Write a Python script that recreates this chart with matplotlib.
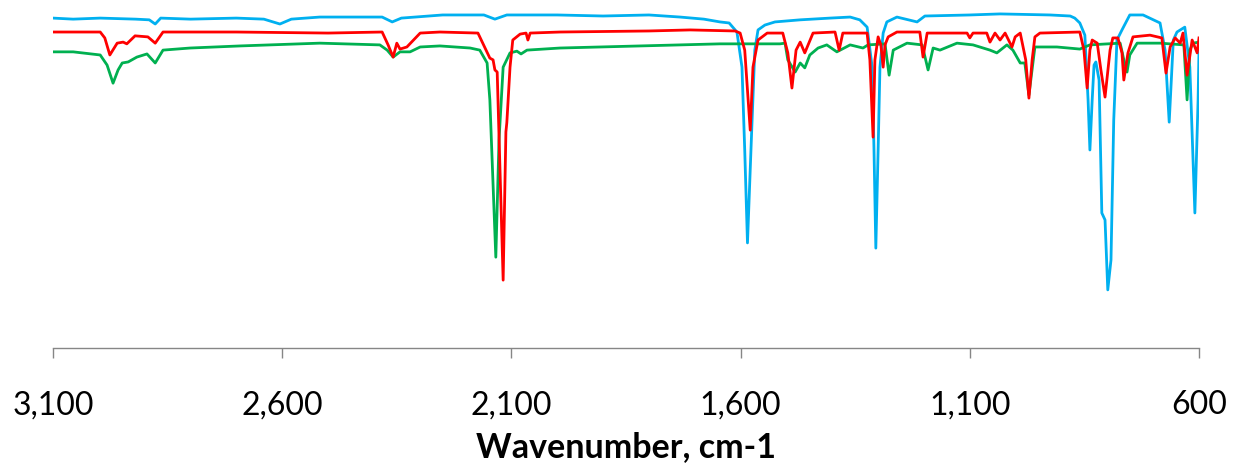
import matplotlib.pyplot as plt

# IR spectra (wavenumber cm-1, transmittance-like units)
wn_blue = [3100, 3056, 2997, 2920, 2890, 2877, 2865, 2800, 2700, 2640, 2605, 2580, 2518, 2450,
           2382, 2360, 2340, 2250, 2160, 2136, 2110, 2000, 1900, 1800, 1732, 1680, 1645, 1625,
           1608, 1597, 1591, 1585, 1576, 1569, 1562, 1547, 1525, 1470, 1405, 1361, 1340, 1324,
           1313, 1309, 1305, 1300, 1296, 1289, 1281, 1259, 1215, 1198, 1100, 1034, 925, 881,
           871, 860, 849, 842, 838, 833, 829, 825, 818, 812, 805, 799, 792, 786, 779, 768, 751,
           722, 685, 674, 665, 656, 648, 631, 620, 609, 602, 600]
t_blue = [94.8, 94.5, 94.8, 94.5, 94.3, 93.1, 94.8, 94.5, 94.8, 94.5, 93.1, 94.5, 95.1, 95.1,
          95.1, 93.7, 94.8, 95.7, 95.7, 94.5, 95.7, 95.7, 95.4, 95.7, 95.1, 94.5, 93.7, 93.4,
          90.8, 80.7, 56.9, 30.2, 61.8, 85.6, 91.4, 92.8, 93.7, 94.3, 94.8, 95.1, 94.3, 92.2,
          80.7, 56.9, 28.7, 56.9, 80.7, 90.5, 93.7, 95.1, 93.7, 95.4, 95.7, 96.0, 95.7, 95.4,
          94.8, 93.4, 89.9, 71.3, 56.9, 71.3, 81.3, 82.2, 77.0, 38.8, 36.8, 16.7, 25.3, 65.5,
          88.5, 91.4, 95.7, 95.7, 93.4, 85.6, 64.9, 88.5, 90.8, 92.2, 80.7, 38.8, 71.3, 85.6]

wn_red = [3100, 2997, 2987, 2976, 2960, 2947, 2939, 2921, 2893, 2877, 2860, 2700, 2500, 2382,
          2369, 2358, 2350, 2343, 2328, 2299, 2256, 2173, 2169, 2147, 2140, 2136, 2131, 2118,
          2112, 2110, 2103, 2097, 2081, 2068, 2064, 2059, 1994, 1800, 1710, 1612, 1601, 1591,
          1579, 1573, 1562, 1542, 1508, 1497, 1488, 1479, 1470, 1460, 1442, 1394, 1385, 1377,
          1324, 1318, 1311, 1307, 1300, 1294, 1289, 1285, 1278, 1259, 1209, 1202, 1193, 1106,
          1100, 1093, 1063, 1056, 1045, 1034, 1023, 1008, 1001, 990, 978, 971, 964, 958, 947,
          860, 851, 844, 838, 833, 822, 814, 805, 794, 788, 777, 768, 764, 755, 744, 707, 681,
          672, 663, 652, 641, 635, 626, 615, 604, 600]
t_red = [90.8, 90.8, 89.1, 84.2, 87.6, 87.9, 87.4, 89.7, 89.4, 87.6, 90.8, 90.8, 90.5, 90.8,
         87.1, 83.6, 87.6, 85.9, 86.5, 90.5, 90.8, 90.5, 89.4, 83.3, 82.8, 79.9, 79.3, 19.5,
         62.1, 64.7, 80.7, 88.5, 90.2, 90.5, 88.5, 90.5, 90.8, 91.1, 91.4, 91.1, 90.5, 85.6,
         62.6, 80.7, 88.5, 90.5, 90.5, 84.8, 74.7, 85.6, 87.9, 84.8, 90.5, 90.8, 85.6, 90.5,
         90.5, 82.8, 60.6, 82.8, 89.4, 87.1, 80.7, 87.1, 89.4, 90.8, 90.8, 83.6, 90.5, 90.5,
         89.1, 90.5, 90.5, 87.9, 90.5, 88.5, 90.5, 86.5, 89.4, 90.5, 82.8, 71.8, 82.8, 89.4, 90.5,
         90.8, 85.6, 74.7, 85.6, 88.5, 87.6, 79.9, 72.1, 85.6, 89.1, 89.1, 84.8, 77.0, 84.8,
         89.4, 89.9, 89.1, 79.0, 86.5, 89.1, 87.6, 90.5, 78.4, 88.5, 84.8, 89.1]

wn_green = [3100, 3056, 2997, 2982, 2969, 2958, 2949, 2936, 2917, 2895, 2877, 2860, 2801, 2692,
            2518, 2387, 2371, 2358, 2343, 2321, 2299, 2256, 2190, 2169, 2153, 2147, 2134, 2127,
            2118, 2103, 2088, 2079, 2066, 1994, 1732, 1645, 1514, 1503, 1497, 1481, 1470, 1460,
            1449, 1431, 1412, 1390, 1361, 1333, 1322, 1285, 1276, 1267, 1237, 1204, 1191, 1180,
            1165, 1128, 1093, 1056, 1041, 1019, 1006, 990, 980, 971, 958, 910, 860, 838, 772,
            764, 757, 751, 735, 685, 633, 626, 620, 613, 600]
t_green = [85.1, 85.1, 84.2, 81.3, 76.1, 79.9, 81.9, 82.2, 83.6, 84.5, 81.9, 85.6, 86.2, 86.8,
           87.6, 87.1, 85.6, 83.6, 85.1, 85.1, 86.5, 86.8, 86.2, 85.6, 81.9, 71.3, 26.1, 59.8,
           80.7, 84.8, 85.3, 84.5, 85.6, 86.2, 87.1, 87.4, 87.4, 87.6, 82.8, 79.3, 81.9, 80.5,
           84.2, 86.2, 87.1, 85.1, 87.1, 86.2, 87.1, 87.4, 78.4, 85.6, 87.6, 87.1, 79.9, 86.2,
           85.6, 87.6, 87.1, 85.6, 84.8, 87.1, 85.6, 81.9, 81.9, 72.7, 86.5, 86.5, 85.9, 87.1,
           87.6, 82.8, 79.3, 84.2, 87.6, 87.6, 87.1, 71.3, 85.6, 87.6, 87.9]

plt.rcParams['font.family'] = ['Lato', 'DejaVu Sans']

fig = plt.figure(figsize=(12.33, 4.66), dpi=100)
ax = fig.add_axes([53 / 1233, 118 / 466, 1146 / 1233, 348 / 466])

ax.plot(wn_blue, t_blue, color='#00B0F0', lw=2.0, zorder=2)
ax.plot(wn_green, t_green, color='#00B050', lw=2.0, zorder=3)
ax.plot(wn_red, t_red, color='#FF0000', lw=2.0, zorder=4)

ax.set_xlim(3100, 600)
ax.set_ylim(0, 100)
ax.set_xticks([3100, 2600, 2100, 1600, 1100, 600])
ax.set_xticklabels(['3,100', '2,600', '2,100', '1,600', '1,100', '600'])
ax.set_yticks([])
for s in ['top', 'right', 'left']:
    ax.spines[s].set_visible(False)
ax.spines['bottom'].set_color('#868686')
ax.spines['bottom'].set_linewidth(1.0)
ax.tick_params(axis='x', direction='out', length=7.5, width=1.0, color='#868686',
               labelsize=23, pad=23, labelcolor='black')
ax.set_xlabel('Wavenumber, cm-1', fontsize=24.5, fontweight='bold', labelpad=8)

fig.savefig('out.png', dpi=100)
